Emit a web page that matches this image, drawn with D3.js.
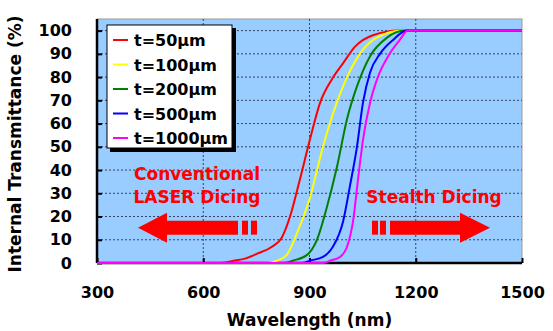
<!DOCTYPE html>
<html>
<head>
<meta charset="utf-8">
<script src="https://cdn.jsdelivr.net/npm/d3@7"></script>
<style>
  body { margin: 0; background: #fff; }
  text { font-family: "DejaVu Sans", Verdana, sans-serif; font-weight: bold; }
</style>
</head>
<body>
<div id="chart"></div>
<script>
// Series labels and colours
const seriesNames = ["t=50μm", "t=100μm", "t=200μm", "t=500μm", "t=1000μm"];
const seriesColors = ["#ff0000", "#ffff00", "#008000", "#0000ff", "#ff00ff"];

// Wavelength (nm) / transmittance (%)
const wl50 = [300, 650, 684, 720, 752, 794, 822, 845, 873, 901, 930, 963, 995, 1028, 1079, 1155, 1500];
const tr50 = [0, 0, 0.9, 2, 4, 7, 11, 20, 36, 53, 69, 79, 86, 93, 98, 100, 100];
const wl100 = [300, 780, 808, 836, 865, 901, 938, 977, 1006, 1042, 1090, 1164, 1500];
const tr100 = [0, 0, 1, 3.5, 13, 28, 50, 69, 80, 90, 97, 100, 100];
const wl200 = [300, 830, 853, 893, 921, 949, 977, 1006, 1034, 1071, 1119, 1170, 1500];
const tr200 = [0, 0, 1, 3.5, 10, 24, 41, 62, 76, 89, 97, 100, 100];
const wl500 = [300, 880, 901, 938, 966, 995, 1014, 1034, 1051, 1071, 1099, 1136, 1175, 1500];
const tr500 = [0, 0, 1, 2.6, 7, 18, 33, 50, 69, 82, 90, 96, 100, 100];
const wl1000 = [300, 940, 958, 986, 1006, 1023, 1037, 1051, 1071, 1093, 1122, 1155, 1178, 1500];
const tr1000 = [0, 0, 1, 2.6, 7, 18, 36, 53, 69, 80, 89, 96, 100, 100];

const xTicks = [300, 600, 900, 1200, 1500];
const yTicks = [0, 10, 20, 30, 40, 50, 60, 70, 80, 90, 100];

const seriesX = [wl50, wl100, wl200, wl500, wl1000];
const seriesY = [tr50, tr100, tr200, tr500, tr1000];
const series = seriesNames.map((name, i) => ({
  name: name,
  color: seriesColors[i],
  values: seriesX[i].map((w, j) => ({ w: w, t: seriesY[i][j] }))
}));

const W = 553, H = 331;
const margin = { top: 19, right: 31, bottom: 68, left: 97 };
const width = W - margin.left - margin.right;
const height = H - margin.top - margin.bottom;

const svg = d3.select("#chart").append("svg")
  .attr("width", W)
  .attr("height", H);

const g = svg.append("g")
  .attr("transform", `translate(${margin.left},${margin.top})`);

const x = d3.scaleLinear().domain([300, 1500]).range([0, width]);
const y = d3.scaleLinear().domain([0, 105]).range([height, 0]);

// Plot background
g.append("rect")
  .attr("width", width)
  .attr("height", height)
  .attr("fill", "#99ccff")
  .attr("stroke", "#9a9a9a")
  .attr("stroke-width", 1);

// Dotted grid
g.append("g").selectAll("line")
  .data(yTicks.filter(d => d > 0))
  .join("line")
  .attr("x1", 0).attr("x2", width)
  .attr("y1", d => y(d)).attr("y2", d => y(d))
  .attr("stroke", "#3a3f5c")
  .attr("stroke-width", 1)
  .attr("stroke-dasharray", "2,2");

g.append("g").selectAll("line")
  .data(xTicks.filter(d => d > 300 && d < 1500))
  .join("line")
  .attr("x1", d => x(d)).attr("x2", d => x(d))
  .attr("y1", 0).attr("y2", height)
  .attr("stroke", "#3a3f5c")
  .attr("stroke-width", 1)
  .attr("stroke-dasharray", "2,2");

// Axes
const yAxis = g.append("g")
  .call(d3.axisLeft(y).tickValues(yTicks).tickSize(-5).tickPadding(25));
const xAxis = g.append("g")
  .attr("transform", `translate(0,${height})`)
  .call(d3.axisBottom(x).tickValues(xTicks).tickFormat(d3.format("d")).tickSize(-5).tickPadding(24));

[yAxis, xAxis].forEach(a => {
  a.select(".domain").attr("stroke", "#000").attr("stroke-width", 2.5);
  a.selectAll(".tick line").attr("stroke", "#000").attr("stroke-width", 2);
  a.selectAll(".tick text")
    .attr("font-family", "DejaVu Sans, Verdana, sans-serif")
    .attr("font-weight", "bold")
    .attr("font-size", 16)
    .attr("fill", "#000");
});
yAxis.select(".domain").attr("d", `M0,0V${height}`);
xAxis.select(".domain").attr("d", `M0,0H${width}`);

// Curves (drawn over the axes, as in the original)
const line = d3.line()
  .x(d => x(d.w))
  .y(d => y(d.t))
  .curve(d3.curveMonotoneX);

g.append("g").selectAll("path")
  .data(series)
  .join("path")
  .attr("d", d => line(d.values))
  .attr("fill", "none")
  .attr("stroke", d => d.color)
  .attr("stroke-width", 2);

// Axis titles
svg.append("text")
  .attr("x", margin.left + width / 2)
  .attr("y", 326)
  .attr("text-anchor", "middle")
  .attr("font-size", 17)
  .text("Wavelength (nm)");

svg.append("text")
  .attr("transform", "rotate(-90)")
  .attr("x", -144)
  .attr("y", 21)
  .attr("text-anchor", "middle")
  .attr("font-size", 17)
  .text("Internal Transmittance (%)");

// Legend
const legend = svg.append("g").attr("transform", "translate(107,25)");
legend.append("rect")
  .attr("x", 3).attr("y", 3)
  .attr("width", 126).attr("height", 124)
  .attr("fill", "#000");
legend.append("rect")
  .attr("width", 125).attr("height", 123)
  .attr("fill", "#fff")
  .attr("stroke", "#000")
  .attr("stroke-width", 1);

const item = legend.selectAll(".item")
  .data(series)
  .join("g")
  .attr("class", "item")
  .attr("transform", (d, i) => `translate(0,${15 + i * 24.5})`);
item.append("line")
  .attr("x1", 6).attr("x2", 21)
  .attr("stroke", d => d.color)
  .attr("stroke-width", 2);
item.append("text")
  .attr("x", 27)
  .attr("y", 6)
  .attr("font-size", 16)
  .text(d => d.name);

// Annotations: arrows and labels
const ann = svg.append("g").attr("fill", "#ff0000");
const ay = margin.top + y(15.2);

ann.append("path")
  .attr("d", `M${138},${ay} L${167},${ay - 15} L${167},${ay - 7} L${238},${ay - 7} L${238},${ay + 7} L${167},${ay + 7} L${167},${ay + 15} Z`);
ann.append("rect").attr("x", 242).attr("y", ay - 7).attr("width", 6).attr("height", 14);
ann.append("rect").attr("x", 251).attr("y", ay - 7).attr("width", 6).attr("height", 14);

ann.append("rect").attr("x", 372).attr("y", ay - 7).attr("width", 6).attr("height", 14);
ann.append("rect").attr("x", 380).attr("y", ay - 7).attr("width", 6).attr("height", 14);
ann.append("path")
  .attr("d", `M${490},${ay} L${460},${ay - 15} L${460},${ay - 7} L${390},${ay - 7} L${390},${ay + 7} L${460},${ay + 7} L${460},${ay + 15} Z`);

ann.append("text")
  .attr("x", 197).attr("y", 180)
  .attr("text-anchor", "middle")
  .attr("font-size", 17)
  .text("Conventional");
ann.append("text")
  .attr("x", 197).attr("y", 203)
  .attr("text-anchor", "middle")
  .attr("font-size", 17)
  .text("LASER Dicing");
ann.append("text")
  .attr("x", 434).attr("y", 203)
  .attr("text-anchor", "middle")
  .attr("font-size", 17)
  .text("Stealth Dicing");
</script>
</body>
</html>
